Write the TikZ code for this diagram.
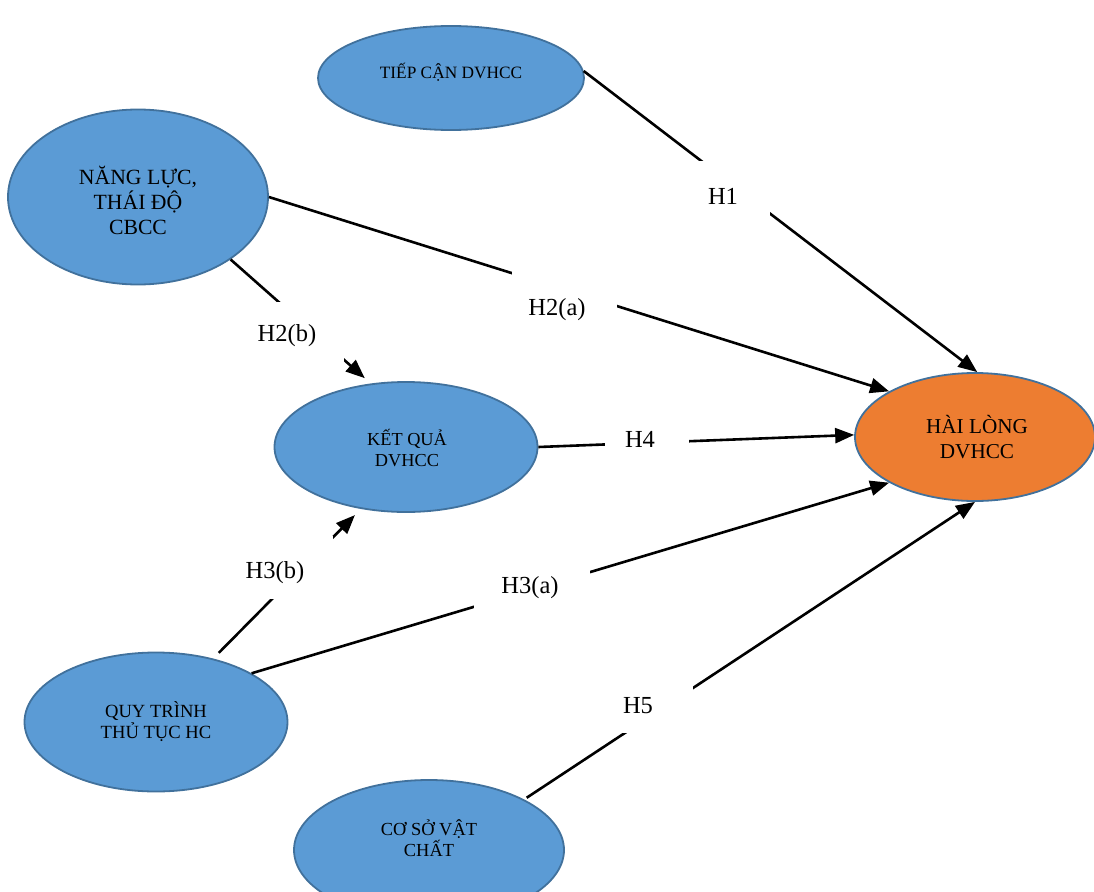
\documentclass[tikz,border=0pt]{standalone}
\usepackage{fontspec}
\setmainfont{Liberation Serif}
\usetikzlibrary{shapes.geometric,arrows.meta}
\definecolor{ellfill}{HTML}{5B9BD5}
\definecolor{ellline}{HTML}{41719C}
\definecolor{orangefill}{HTML}{ED7D31}
\begin{document}
\begin{tikzpicture}[x=1pt,y=-1pt,
  ell/.style={ellipse, draw=ellline, line width=1.8pt, fill=ellfill, inner sep=0pt},
  etext/.style={align=center, text=black, inner sep=0pt},
  conn/.style={line width=2.6pt, -{Triangle[length=19pt,width=15pt]}},
  gapbox/.style={fill=white, draw=none, inner sep=0pt},
  lab/.style={font=\fontsize{24.5}{28}\selectfont, inner sep=0pt}]
\useasboundingbox (0,0) rectangle (1094,891);
% ellipses
\node[ell, minimum width=266pt, minimum height=104pt] (tc) at (451,78) {};
\node[ell, minimum width=260pt, minimum height=175pt] (nl) at (138,197) {};
\node[ell, minimum width=263pt, minimum height=130pt] (kq) at (406,447) {};
\node[ell, fill=orangefill, minimum width=240pt, minimum height=128pt] (hl) at (975,437) {};
\node[ell, minimum width=263pt, minimum height=139pt] (qt) at (156,722) {};
\node[ell, minimum width=270pt, minimum height=140pt] (cs) at (429,850) {};
% texts
\node[etext, font=\fontsize{17.3}{20}\selectfont] (tct) at (451,72) {TIẾP CẬN DVHCC};
\node[etext, font=\fontsize{21.7}{25}\selectfont] (nlt) at (138,200) {NĂNG LỰC,\\THÁI ĐỘ\\CBCC};
\node[etext, font=\fontsize{18.3}{21}\selectfont] (kqt) at (407,448) {KẾT QUẢ\\DVHCC};
\node[etext, font=\fontsize{21.2}{25}\selectfont] (hlt) at (977,437) {HÀI LÒNG\\DVHCC};
\node[etext, font=\fontsize{18.6}{21}\selectfont] (qtt) at (156,722) {QUY TRÌNH\\THỦ TỤC HC};
\node[etext, font=\fontsize{18.4}{21}\selectfont] (cst) at (429,838) {CƠ SỞ VẬT\\CHẤT};
% connectors
\draw[conn] (tc.3.5) -- (hl.88.2);
\draw[conn] (nl.-0.4) -- (hl.152.1);
\draw[conn, shorten >=8pt] (nl.-34.4) -- (kq.119.1);
\draw[conn] (kq.0) -- (hl.179.5);
\draw[conn, shorten <=8pt, shorten >=8.6pt] (qt.48.5) -- (kq.-126.3);
\draw[conn] (qt.27.8) -- (hl.-152.1);
\draw[conn, shorten <=3pt] (cs.28.9) -- (hl.-90);
% gaps
\path[gapbox] (698,161) rectangle (770,225) coordinate (g1);
\path[gapbox] (512,270) rectangle (617,345) coordinate (g2);
\path[gapbox] (245,302) rectangle (344,362) coordinate (g3);
\path[gapbox] (605,415) rectangle (689,465) coordinate (g4);
\path[gapbox] (238,536) rectangle (333,599) coordinate (g5);
\path[gapbox] (474,560) rectangle (590,615) coordinate (g6);
\path[gapbox] (610,686) rectangle (693,733) coordinate (g7);
% labels
\node[lab] (h1) at (723,196) {H1};
\node[lab] (h2a) at (557,310) {H2(a)};
\node[lab] (h2b) at (287,336) {H2(b)};
\node[lab] (h4) at (640,439) {H4};
\node[lab] (h3b) at (275,573) {H3(b)};
\node[lab] (h3a) at (530,588) {H3(a)};
\node[lab] (h5) at (638,706) {H5};
\end{tikzpicture}
\end{document}
